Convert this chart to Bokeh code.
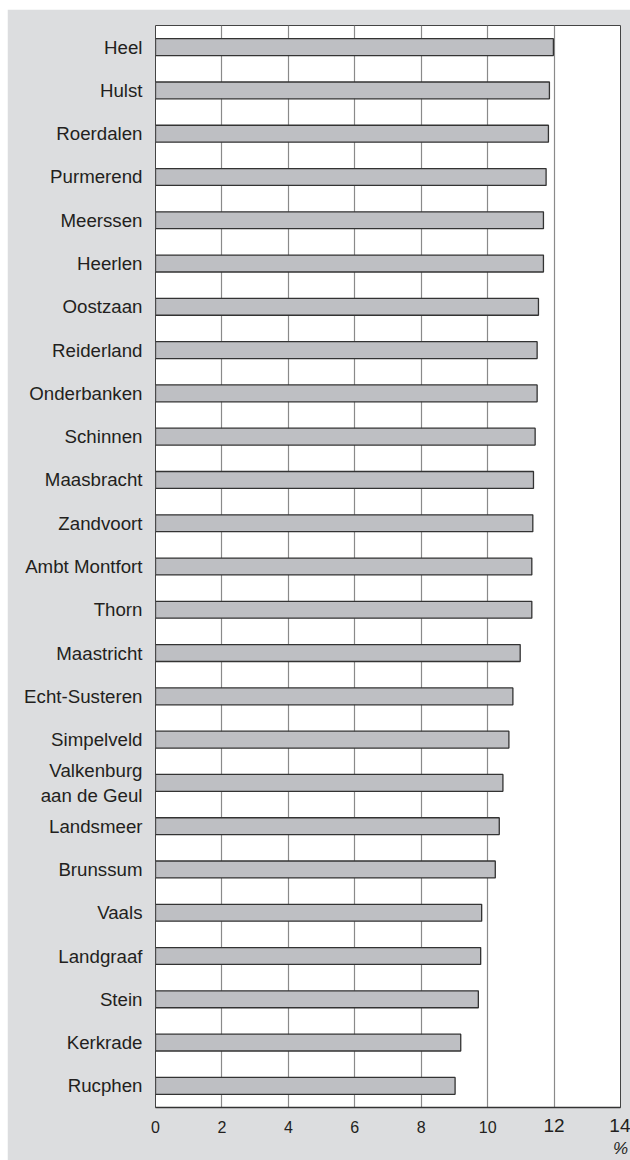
from bokeh.plotting import figure
from bokeh.models import Range1d, FixedTicker, ColumnDataSource, LinearAxis
from bokeh.embed import file_html
from bokeh.resources import INLINE

municipalities = [
    "Heel", "Hulst", "Roerdalen", "Purmerend", "Meerssen", "Heerlen", "Oostzaan",
    "Reiderland", "Onderbanken", "Schinnen", "Maasbracht", "Zandvoort",
    "Ambt Montfort", "Thorn", "Maastricht", "Echt-Susteren", "Simpelveld",
    "Valkenburg\naan de Geul", "Landsmeer", "Brunssum", "Vaals", "Landgraaf",
    "Stein", "Kerkrade", "Rucphen",
]
values = [
    11.98, 11.86, 11.83, 11.76, 11.68, 11.68, 11.53,
    11.49, 11.49, 11.43, 11.38, 11.36,
    11.33, 11.33, 10.98, 10.76, 10.64,
    10.46, 10.35, 10.23, 9.82, 9.79,
    9.72, 9.19, 9.02,
]
x_ticks = [0, 2, 4, 6, 8, 10, 12, 14]
big_ticks = [12, 14]
unit = "%"

TEXT = "#231f20"
FONT = "Liberation Sans"

n = len(municipalities)
pos = list(range(n))
source = ColumnDataSource(dict(y=pos, right=values, name=municipalities))

p = figure(width=623, height=1151, output_backend="svg", toolbar_location=None,
           x_range=Range1d(0, 14), y_range=Range1d(n - 0.5, -0.5),
           min_border_left=148, min_border_right=10,
           min_border_top=16, min_border_bottom=53)
p.margin = (9, 0, 0, 7)

p.background_fill_color = "white"
p.border_fill_color = "#dcdddf"
p.outline_line_color = "#444444"
p.outline_line_width = 1

p.hbar(y="y", left=0, right="right", height=0.39, source=source,
       fill_color="#bebfc3", line_color="#333333", line_width=1.3)

# grid
p.ygrid.visible = False
p.xgrid.ticker = FixedTicker(ticks=[t for t in x_ticks if 0 < t < 14])
p.xgrid.grid_line_color = "#8a8a8a"
p.xgrid.grid_line_width = 1.2

# y axis
yax = p.yaxis[0]
yax.ticker = FixedTicker(ticks=pos)
yax.major_label_overrides = {i: m for i, m in enumerate(municipalities)}
yax.axis_line_color = None
yax.major_tick_line_color = None
yax.minor_tick_line_color = None
yax.major_tick_out = 0
yax.major_tick_in = 0
yax.major_label_standoff = 13
yax.major_label_text_font = FONT
yax.major_label_text_font_size = "18.7px"
yax.major_label_text_color = TEXT

def style_x(ax, size, standoff):
    ax.major_tick_line_color = None
    ax.minor_tick_line_color = None
    ax.major_tick_out = 0
    ax.major_tick_in = 0
    ax.major_label_standoff = standoff
    ax.major_label_text_font = FONT
    ax.major_label_text_font_size = size
    ax.major_label_text_color = TEXT

# main x axis: small tick labels
xax = p.xaxis[0]
xax.ticker = FixedTicker(ticks=x_ticks)
xax.major_label_overrides = {t: "" for t in big_ticks}
xax.axis_line_color = "#333333"
xax.axis_line_width = 1.3
style_x(xax, "16px", 13)

# second x axis: larger labels for 12 and 14, pulled up next to the others
ax2 = LinearAxis(ticker=FixedTicker(ticks=big_ticks), axis_line_color=None)
style_x(ax2, "19px", -17)
p.add_layout(ax2, "below")

# third x axis: the unit under 14
ax3 = LinearAxis(ticker=FixedTicker(ticks=[x_ticks[-1]]), axis_line_color=None,
                 major_label_overrides={x_ticks[-1]: unit})
style_x(ax3, "17px", 3)
ax3.major_label_text_font_style = "italic"
p.add_layout(ax3, "below")

open("out.html", "w").write(file_html(p, INLINE))
